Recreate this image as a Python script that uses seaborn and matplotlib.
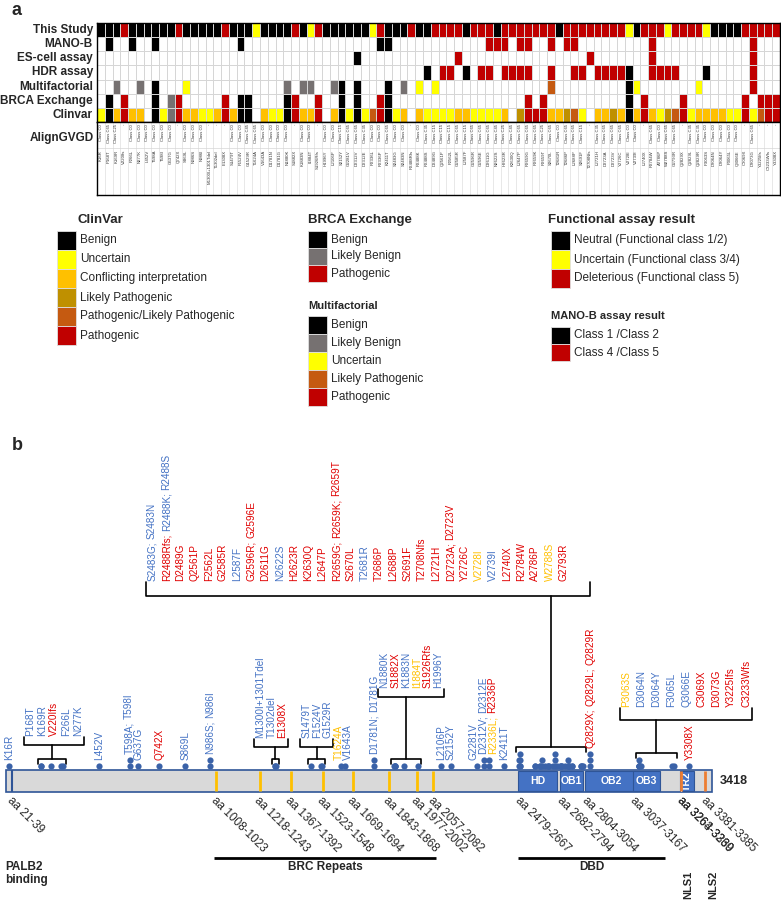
import re
import numpy as np
import pandas as pd
import matplotlib
matplotlib.use("Agg")
import matplotlib.pyplot as plt
from matplotlib import font_manager
from matplotlib.colors import ListedColormap
from matplotlib.patches import Rectangle
import seaborn as sns

sns.set_theme(style="white")
plt.rcParams["font.family"] = ["Liberation Sans", "DejaVu Sans"]
installed = {f.name for f in font_manager.fontManager.ttflist}
NARROW = "Liberation Sans Narrow" if "Liberation Sans Narrow" in installed else "Liberation Sans"

# ---------------- data ----------------
variants = ["K16R", "P168T", "K169R", "V220Ifs", "F266L", "N277K", "L452V", "T598A", "T598I", "G637G",
            "Q742X", "S869L", "N986S", "N986I", "M1300I+1301Tdel", "T1302del", "E1308X", "S1479T", "F1524V", "G1529R",
            "T1624A", "V1643A", "D1781N", "D1781G", "N1880K", "S1882X", "K1883N", "I1884T", "S1926Rfs", "H1996Y",
            "L2106P", "S2152Y", "G2281V", "D2312V", "D2312E", "R2336L", "R2336P", "K2411T", "S2483G", "S2483N",
            "R2488Rfs", "R2488K", "R2488S", "D2489G", "Q2561P", "F2562L", "G2585R", "L2587F", "G2596R", "G2596E",
            "D2611G", "N2622S", "H2623R", "K2630Q", "L2647P", "R2659G", "R2659K", "R2659T", "S2670L", "T2681R",
            "T2686P", "L2688P", "S2691F", "T2708Nfs", "L2721H", "D2723A", "D2723V", "Y2726C", "V2728I", "V2739I",
            "L2740X", "R2784W", "A2786P", "W2788S", "G2793R", "Q2829X", "Q2829L", "Q2829R", "P3063S", "D3064N",
            "D3064Y", "F3065L", "Q3066E", "C3069X", "D3073G", "Y3225Ifs", "C3233Wfs", "Y3308X"]

# one character per variant: . none, B black, G grey, Y yellow, O orange, K dark gold, P brown, R red
this_study = "BBBRBBBBBB" "RBBBBBRBBB" "YBBBBRBYRB" "BBBBBYRBBB" "RBBRRRRBRR" "RBRRRRRRRB" "RRRRRRRRYB" "RRRYRRRRYB" "BBBRRRRR"
mano_b = ".B..B..B.." "........B." ".........." "......BB.." ".........." "RRR.RR..R." "RR........" ".R........" "....R..."
es_cell = ".........." ".........." ".........." "...B......" "......R..." ".........." "...R......" ".R........" "....R..."
hdr = ".........." ".........." ".........." ".........." "..B.RR.B.R" "R.RRRR..R." ".RR.RRRRB." ".RRRR...B." "....R..."
multifactorial = "..G..G.B.." ".Y........" "....G.GG.." "GB.B...B.G" ".Y.Y......" "........P." "........BY" ".......Y.." "....R..."
brca_exchange = ".B.R...B.G" "R.....R.BB" "....BR..R." ".B.B..RB.." ".........." ".....R.R.." "........B." "R....R...." "...R.RRR"
clinvar = "YBOROO.BYG" "ROOYYOROBB" ".OYYBROOR." "OBYBYPRBYO" ".OYYYYOOYY" "YYO.KRRROO" "KPY.OOKOBO" "ROYKPRYOOO" "OYYRYPRR"

align_gvgd = ["C0", "C65", "C25", "-", "C0", "C0", "C0", "C0", "C0", "C0",
              "-", "C0", "C0", "C0", "-", "-", "-", "C0", "C0", "C45",
              "C65", "C0", "C0", "C0", "C0", "-", "C0", "C0", "-", "C0",
              "C0", "C15", "C65", "C65", "C35", "C0", "C0", "C65", "C0", "C0",
              "-", "C0", "C35", "C15", "C15", "C15", "C65", "C15", "C65", "C65",
              "C65", "C45", "C25", "C45", "C65", "C65", "C65", "C25", "C65", "C0",
              "C65", "C65", "C15", "-", "C35", "C65", "C65", "C65", "C0", "C0",
              "-", "C65", "C0", "C65", "C65", "-", "C35", "C35", "C0", "C0",
              "C0", "C0", "C0", "-", "C65", "-", "-", "-"]

code_colors = {".": "#FFFFFF", "B": "#000000", "G": "#767171", "Y": "#FFFF00",
               "O": "#FFC000", "K": "#BF9000", "P": "#C55A11", "R": "#C00000"}

clinvar_legend = ["Benign", "Uncertain", "Conflicting interpretation", "Likely Pathogenic",
                  "Pathogenic/Likely Pathogenic", "Pathogenic"]
clinvar_legend_codes = "BYOKPR"
brca_legend = ["Benign", "Likely Benign", "Pathogenic"]
brca_legend_codes = "BGR"
multi_legend = ["Benign", "Likely Benign", "Uncertain", "Likely Pathogenic", "Pathogenic"]
multi_legend_codes = "BGYPR"
functional_legend = ["Neutral (Functional class 1/2)", "Uncertain (Functional class 3/4)",
                     "Deleterious (Functional class 5)"]
functional_legend_codes = "BYR"
manob_legend = ["Class 1 /Class 2", "Class 4 /Class 5"]
manob_legend_codes = "BR"

# panel b: protein features (amino-acid positions)
protein_length = 3418
palb2_site = (21, 39)
brc_repeats = [(1008, 1023), (1218, 1243), (1367, 1392), (1523, 1548), (1669, 1694),
               (1843, 1868), (1977, 2002), (2057, 2082)]
domains = [("HD", 2479, 2667), ("OB1", 2682, 2794), ("OB2", 2804, 3054), ("OB3", 3037, 3167), ("TR2", 3264, 3330)]
nls_sites = [("NLS1", 3263, 3269), ("NLS2", 3381, 3385)]
aa_label_regions = [palb2_site] + brc_repeats + [(s, e) for _, s, e in domains[:4]] + [(3263, 3269), (3264, 3330), (3381, 3385)]
region_bars = [("BRC Repeats", 1008, 2082), ("DBD", 2479, 3190)]

single_lines = [["K16R"], ["L452V"], ["T598A", "T598I"], ["G637G"], ["Q742X"], ["S869L"], ["N986S", "N986I"],
                ["T1624A"], ["V1643A"], ["D1781N", "D1781G"], ["L2106P"], ["S2152Y"], ["G2281V"],
                ["D2312V", "D2312E"], ["R2336L", "R2336P"], ["K2411T"], ["Q2829X", "Q2829L", "Q2829R"], ["Y3308X"]]
grouped_lines = [
    [["P168T"], ["K169R"], ["V220Ifs"], ["F266L"], ["N277K"]],
    [["M1300I+1301Tdel"], ["T1302del"], ["E1308X"]],
    [["S1479T"], ["F1524V"], ["G1529R"]],
    [["N1880K"], ["S1882X"], ["K1883N"], ["I1884T"], ["S1926Rfs"], ["H1996Y"]],
    [["S2483G", "S2483N"], ["R2488Rfs", "R2488K", "R2488S"], ["D2489G"], ["Q2561P"], ["F2562L"], ["G2585R"],
     ["L2587F"], ["G2596R", "G2596E"], ["D2611G"], ["N2622S"], ["H2623R"], ["K2630Q"], ["L2647P"],
     ["R2659G", "R2659K", "R2659T"], ["S2670L"], ["T2681R"], ["T2686P"], ["L2688P"], ["S2691F"], ["T2708Nfs"],
     ["L2721H"], ["D2723A", "D2723V"], ["Y2726C"], ["V2728I"], ["V2739I"], ["L2740X"], ["R2784W"], ["A2786P"],
     ["W2788S"], ["G2793R"]],
    [["P3063S"], ["D3064N"], ["D3064Y"], ["F3065L"], ["Q3066E"], ["C3069X"], ["D3073G"], ["Y3225Ifs"], ["C3233Wfs"]],
]
# (upper bracket height above bar px, label spacing px, label shift px, tick px, extra right px)
group_style = [(25, 12, 2, 8, 0), (23, 11, -4, 8, 0), (23, 10.5, 0, 8, 0), (73, 10.8, 5, 8, 0),
               (174, 14.2, -193, 14, 20), (50, 15, 30, 12, 0)]

# ---------------- figure ----------------
W, H = 781, 900
fig = plt.figure(figsize=(W / 100, H / 100), dpi=100)


def px_axes(x0, y0, x1, y1):
    return fig.add_axes([x0 / W, 1 - y1 / H, (x1 - x0) / W, (y1 - y0) / H])


# overlay for panel letters and legends (pixel coordinates)
ov = px_axes(0, 0, W, H)
ov.set_xlim(0, W)
ov.set_ylim(H, 0)
ov.axis("off")
ov.text(12, 2, "a", fontsize=13, fontweight="bold", va="top")
ov.text(12, 437, "b", fontsize=13, fontweight="bold", va="top")

# heatmap
rows = {"This Study": this_study, "MANO-B": mano_b, "ES-cell assay": es_cell, "HDR assay": hdr,
        "Multifactorial": multifactorial, "BRCA Exchange": brca_exchange, "Clinvar": clinvar}
codes = list(code_colors)
mat = pd.DataFrame([[codes.index(c) for c in r] for r in rows.values()], index=list(rows), columns=variants)
ax_hm = px_axes(97, 23, 780, 122)
sns.heatmap(mat, ax=ax_hm, cmap=ListedColormap(list(code_colors.values())), vmin=-0.5, vmax=len(codes) - 0.5,
            cbar=False, linewidths=0.5, linecolor="#D6D6D6", xticklabels=False, yticklabels=True)
ax_hm.set_xlabel("")
ax_hm.set_ylabel("")
ax_hm.tick_params(axis="y", length=0, pad=3)
for t in ax_hm.get_yticklabels():
    t.set_fontweight("bold")
    t.set_fontsize(8.5)
    t.set_rotation(0)
for s in ax_hm.spines.values():
    s.set_visible(True)
    s.set_color("black")
    s.set_linewidth(1)

# AlignGVGD / variant name table
n = len(variants)
ax_tab = px_axes(97, 122, 780, 195)
ax_tab.set_xlim(0, n)
ax_tab.set_ylim(73, 0)
ax_tab.vlines(np.arange(1, n), 0, 73, color="#D6D6D6", lw=0.4)
ax_tab.hlines(26, 0, n, color="#D6D6D6", lw=0.5)
for i, (v, c) in enumerate(zip(variants, align_gvgd)):
    ax_tab.text(i + 0.5, 2, "-" if c == "-" else f"Class {c}", rotation=90, ha="center", va="top",
                fontsize=3.0, color="#333333")
    ax_tab.text(i + 0.5, 28, v, rotation=90, ha="center", va="top", fontsize=3.1, color="#333333")
ax_tab.text(-0.4, 16, "AlignGVGD", ha="right", va="center", fontsize=8.5, fontweight="bold")
ax_tab.set_xticks([])
ax_tab.set_yticks([])
for s in ax_tab.spines.values():
    s.set_visible(True)
    s.set_color("black")
    s.set_linewidth(1)


# legends
def legend_block(x, y0, h, labels, lcodes, fs=8.5):
    for k, (lab, c) in enumerate(zip(labels, lcodes)):
        ov.add_patch(Rectangle((x, y0 + k * h), 19, h, facecolor=code_colors[c], edgecolor="#E0E0E0", lw=0.6))
        ov.text(x + 23, y0 + k * h + h / 2, lab, va="center", fontsize=fs, family=NARROW)


ov.text(78, 220, "ClinVar", fontsize=9.5, fontweight="bold", va="center")
legend_block(57, 231, 19, clinvar_legend, clinvar_legend_codes)
ov.text(308, 220, "BRCA Exchange", fontsize=9.5, fontweight="bold", va="center")
legend_block(308, 231, 17, brca_legend, brca_legend_codes)
ov.text(308, 306, "Multifactorial", fontsize=8, fontweight="bold", va="center", family=NARROW)
legend_block(308, 316, 18, multi_legend, multi_legend_codes)
ov.text(548, 220, "Functional assay result", fontsize=9.5, fontweight="bold", va="center")
legend_block(551, 231, 19, functional_legend, functional_legend_codes)
ov.text(551, 316, "MANO-B assay result", fontsize=8, fontweight="bold", va="center", family=NARROW)
legend_block(551, 327, 17, manob_legend, manob_legend_codes)

# ---------------- panel b ----------------
ax_b = px_axes(0, 430, W, H)
S = 706 / protein_length  # pixels per amino acid
x0 = -6 / S
ax_b.set_xlim(x0, x0 + W / S)
ax_b.set_ylim(H, 430)
ax_b.axis("off")
BAR_TOP, BAR_BOT = 770, 792

ax_b.add_patch(Rectangle((1, BAR_TOP), protein_length - 1, BAR_BOT - BAR_TOP,
                         facecolor="#D9D9D9", edgecolor="#2F5597", lw=1.2, zorder=1))
ax_b.vlines(np.mean(palb2_site), BAR_TOP, BAR_BOT, color="#2F5597", lw=1.5, zorder=2)
ax_b.vlines([np.mean(r) for r in brc_repeats], BAR_TOP + 1, BAR_BOT - 1, color="#FFC000", lw=2, zorder=2)
for name, s0, s1 in domains:
    ax_b.add_patch(Rectangle((s0, BAR_TOP + 1), s1 - s0, BAR_BOT - BAR_TOP - 2,
                             facecolor="#4472C4", edgecolor="#2F5597", lw=0.8, zorder=3))
    ax_b.text((s0 + s1) / 2, (BAR_TOP + BAR_BOT) / 2, name, color="white", fontsize=7.5, fontweight="bold",
              ha="center", va="center", rotation=90 if name == "TR2" else 0, zorder=4)
for name, s0, s1 in nls_sites:
    ax_b.vlines((s0 + s1) / 2, BAR_TOP + 1, BAR_BOT - 1, color="#ED7D31", lw=2, zorder=4)
    ax_b.text((s0 + s1) / 2 + 8 / S, 899, name, rotation=90, fontsize=8, fontweight="bold", ha="center", va="bottom")
ax_b.text(protein_length + 8 / S, (BAR_TOP + BAR_BOT) / 2, str(protein_length), fontsize=9, fontweight="bold",
          va="center", ha="left")

for s0, s1 in aa_label_regions:
    ax_b.text(s0 + 3 / S, BAR_BOT + 3, f"aa {s0}-{s1}", rotation=-45, rotation_mode="anchor", ha="left", va="top",
              fontsize=8.5)
for name, s0, s1 in region_bars:
    ax_b.hlines(858, s0, s1, color="black", lw=2)
    ax_b.text((s0 + s1) / 2, 861, name, fontsize=8.5, fontweight="bold", ha="center", va="top")
ax_b.text(x0 + 5 / S, 861, "PALB2\nbinding", fontsize=8.5, fontweight="bold", ha="left", va="top", linespacing=1.15)

# variant dots, stacked when at the same residue
pos = {v: int(re.search(r"\d+", v).group()) for v in variants}
stack, top_of = {}, {}
dot_x, dot_y = [], []
for v in variants:
    p = pos[v]
    k = stack.get(p, 0)
    stack[p] = k + 1
    dot_x.append(p)
    dot_y.append(BAR_TOP - 4 - 6 * k)
    top_of[p] = BAR_TOP - 4 - 6 * k
ax_b.scatter(dot_x, dot_y, s=20, color="#3A62A8", linewidths=0, zorder=5)

label_palette = {"B": "#4472C4", "R": "#E00000", "Y": "#FFC000"}
label_color = {v: label_palette[c] for v, c in zip(variants, this_study)}
renderer = fig.canvas.get_renderer()
FS = 7.2


def vlabel(x, y_bottom, names, fs=FS):
    y = y_bottom
    for i, v in enumerate(names):
        txt = v + (";" if i < len(names) - 1 else "")
        t = ax_b.text(x, y, txt, rotation=90, ha="center", va="bottom", fontsize=fs, color=label_color[v])
        y -= t.get_window_extent(renderer).height + 2.5


# spread single labels so neighbours do not overlap
sx = np.array([pos[line[0]] for line in single_lines], dtype=float)
order = np.argsort(sx)
gap = 9.5 / S
for _ in range(200):
    for a, b in zip(order[:-1], order[1:]):
        d = sx[b] - sx[a]
        if d < gap:
            sx[a] -= (gap - d) / 2
            sx[b] += (gap - d) / 2
for x, line in zip(sx, single_lines):
    ytop = min(top_of[pos[v]] for v in line)
    vlabel(x, ytop - 6, line)

lw_b = 1.2
for lines, (ub, spacing, shift, tick, extra) in zip(grouped_lines, group_style):
    ps = [pos[v] for line in lines for v in line]
    lo, hi = min(ps) - 3 / S, max(ps) + 3 / S
    yl = min(top_of[p] for p in ps) - 7
    ax_b.plot([lo, lo, hi, hi], [yl + 5, yl, yl, yl + 5], color="black", lw=lw_b)
    xc = (lo + hi) / 2
    yu = BAR_TOP - ub
    ax_b.plot([xc, xc], [yl, yu], color="black", lw=lw_b)
    xl = xc + shift / S
    xs = [xl + (i - (len(lines) - 1) / 2) * spacing / S for i in range(len(lines))]
    m = 6 / S
    r = xs[-1] + m + extra / S
    ax_b.plot([xs[0] - m, xs[0] - m, r, r], [yu - tick, yu, yu, yu - tick], color="black", lw=lw_b)
    for x, line in zip(xs, lines):
        vlabel(x, yu - tick - 1, line)

fig.savefig("out.png", dpi=100)
